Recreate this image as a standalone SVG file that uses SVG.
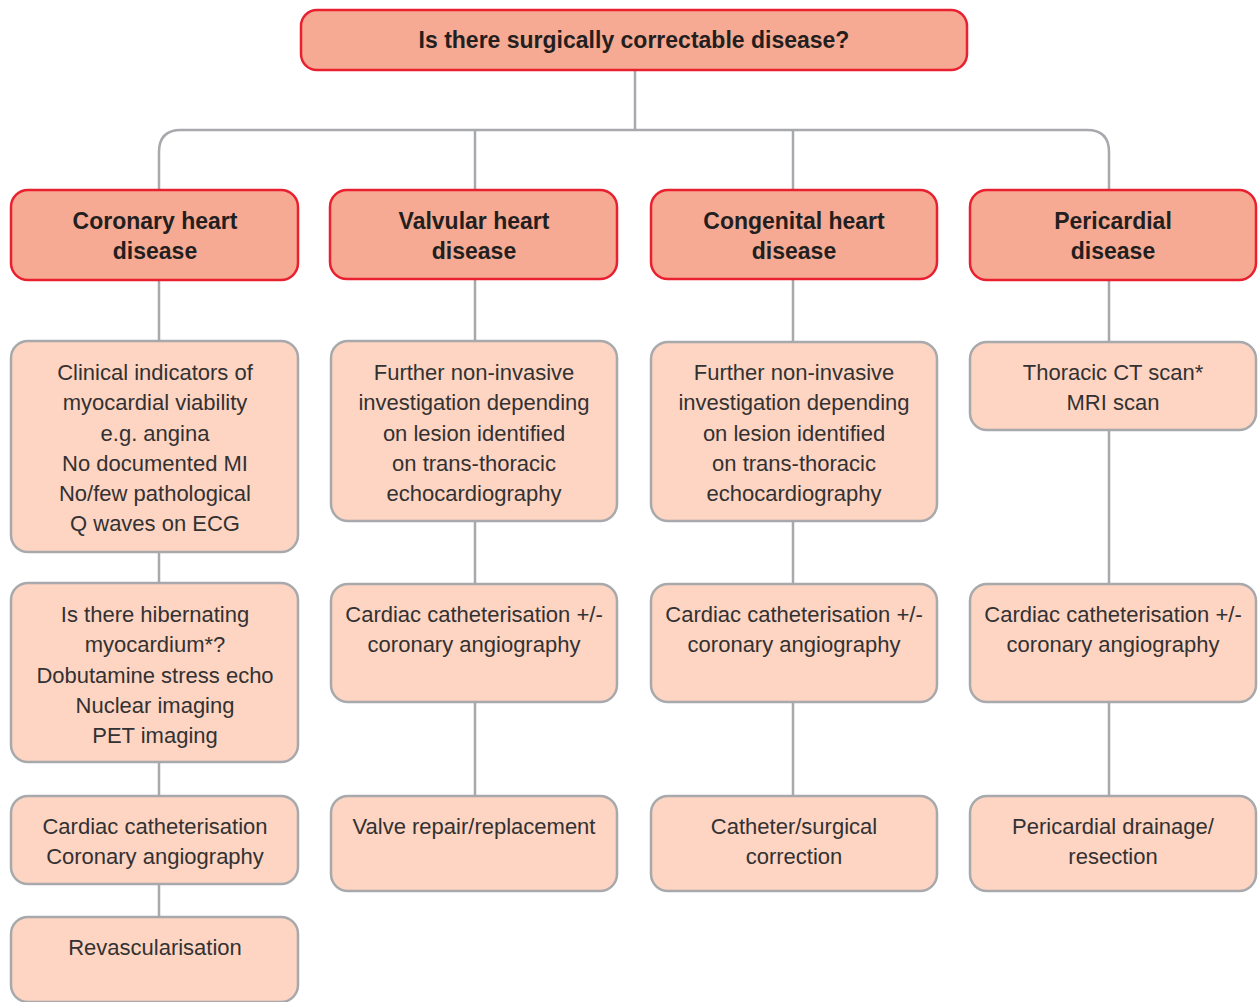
<svg xmlns="http://www.w3.org/2000/svg" width="1258" height="1002" viewBox="0 0 1258 1002">
<style>
.hd{fill:#F7AA93;stroke:#E8202F;stroke-width:2.5}
.bx{fill:#FDD5C2;stroke:#A7A9AC;stroke-width:2.5}
.ln{fill:none;stroke:#A7A9AC;stroke-width:2.5}
.ht{font-family:"Liberation Sans",Arial,sans-serif;font-weight:bold;font-size:23px;fill:#231F20;text-anchor:middle}
.bt{font-family:"Liberation Sans",Arial,sans-serif;font-size:22px;fill:#333132;text-anchor:middle}
</style>
<rect width="1258" height="1002" fill="#FFFFFF"/>
<g id="connectors" class="ln">
<path d="M635,70 V130"/>
<path d="M159,190 V152 Q159,130 181,130 H1087 Q1109,130 1109,152 V190"/>
<path d="M475,130 V190"/>
<path d="M793,130 V190"/>
<path d="M159,280 V341 M159,552 V583 M159,762 V796 M159,884 V917"/>
<path d="M475,279 V341 M475,521 V584 M475,702 V796"/>
<path d="M793,279 V342 M793,521 V584 M793,702 V796"/>
<path d="M1109,280 V342 M1109,430 V584 M1109,702 V796"/>
</g>
<g id="n-root"><rect class="hd" x="301" y="10" width="666" height="60" rx="16"/><text class="ht" x="634" y="48">Is there surgically correctable disease?</text></g>
<g id="n-coronary"><rect class="hd" x="11" y="190" width="287" height="90" rx="17"/><text class="ht" x="155" y="229">Coronary heart</text><text class="ht" x="155" y="259">disease</text></g>
<g id="n-valvular"><rect class="hd" x="330" y="190" width="287" height="89" rx="17"/><text class="ht" x="474" y="229">Valvular heart</text><text class="ht" x="474" y="259">disease</text></g>
<g id="n-congenital"><rect class="hd" x="651" y="190" width="286" height="89" rx="17"/><text class="ht" x="794" y="229">Congenital heart</text><text class="ht" x="794" y="259">disease</text></g>
<g id="n-pericardial"><rect class="hd" x="970" y="190" width="286" height="90" rx="17"/><text class="ht" x="1113" y="229">Pericardial</text><text class="ht" x="1113" y="259">disease</text></g>

<g id="n-c1"><rect class="bx" x="11" y="341" width="287" height="211" rx="17"/>
<text class="bt" x="155" y="380">Clinical indicators of</text><text class="bt" x="155" y="410">myocardial viability</text><text class="bt" x="155" y="441">e.g. angina</text><text class="bt" x="155" y="471">No documented MI</text><text class="bt" x="155" y="501">No/few pathological</text><text class="bt" x="155" y="531">Q waves on ECG</text></g>
<g id="n-c2"><rect class="bx" x="11" y="583" width="287" height="179" rx="17"/>
<text class="bt" x="155" y="622">Is there hibernating</text><text class="bt" x="155" y="652">myocardium*?</text><text class="bt" x="155" y="683">Dobutamine stress echo</text><text class="bt" x="155" y="713">Nuclear imaging</text><text class="bt" x="155" y="743">PET imaging</text></g>
<g id="n-c3"><rect class="bx" x="11" y="796" width="287" height="88" rx="17"/>
<text class="bt" x="155" y="834">Cardiac catheterisation</text><text class="bt" x="155" y="864">Coronary angiography</text></g>
<g id="n-c4"><rect class="bx" x="11" y="917" width="287" height="85" rx="17"/>
<text class="bt" x="155" y="955">Revascularisation</text></g>

<g id="n-v1"><rect class="bx" x="331" y="341" width="286" height="180" rx="17"/>
<text class="bt" x="474" y="380">Further non-invasive</text><text class="bt" x="474" y="410">investigation depending</text><text class="bt" x="474" y="441">on lesion identified</text><text class="bt" x="474" y="471">on trans-thoracic</text><text class="bt" x="474" y="501">echocardiography</text></g>
<g id="n-v2"><rect class="bx" x="331" y="584" width="286" height="118" rx="17"/>
<text class="bt" x="474" y="622">Cardiac catheterisation +/-</text><text class="bt" x="474" y="652">coronary angiography</text></g>
<g id="n-v3"><rect class="bx" x="331" y="796" width="286" height="95" rx="17"/>
<text class="bt" x="474" y="834">Valve repair/replacement</text></g>

<g id="n-g1"><rect class="bx" x="651" y="342" width="286" height="179" rx="17"/>
<text class="bt" x="794" y="380">Further non-invasive</text><text class="bt" x="794" y="410">investigation depending</text><text class="bt" x="794" y="441">on lesion identified</text><text class="bt" x="794" y="471">on trans-thoracic</text><text class="bt" x="794" y="501">echocardiography</text></g>
<g id="n-g2"><rect class="bx" x="651" y="584" width="286" height="118" rx="17"/>
<text class="bt" x="794" y="622">Cardiac catheterisation +/-</text><text class="bt" x="794" y="652">coronary angiography</text></g>
<g id="n-g3"><rect class="bx" x="651" y="796" width="286" height="95" rx="17"/>
<text class="bt" x="794" y="834">Catheter/surgical</text><text class="bt" x="794" y="864">correction</text></g>

<g id="n-p1"><rect class="bx" x="970" y="342" width="286" height="88" rx="17"/>
<text class="bt" x="1113" y="380">Thoracic CT scan*</text><text class="bt" x="1113" y="410">MRI scan</text></g>
<g id="n-p2"><rect class="bx" x="970" y="584" width="286" height="118" rx="17"/>
<text class="bt" x="1113" y="622">Cardiac catheterisation +/-</text><text class="bt" x="1113" y="652">coronary angiography</text></g>
<g id="n-p3"><rect class="bx" x="970" y="796" width="286" height="95" rx="17"/>
<text class="bt" x="1113" y="834">Pericardial drainage/</text><text class="bt" x="1113" y="864">resection</text></g>
</svg>
